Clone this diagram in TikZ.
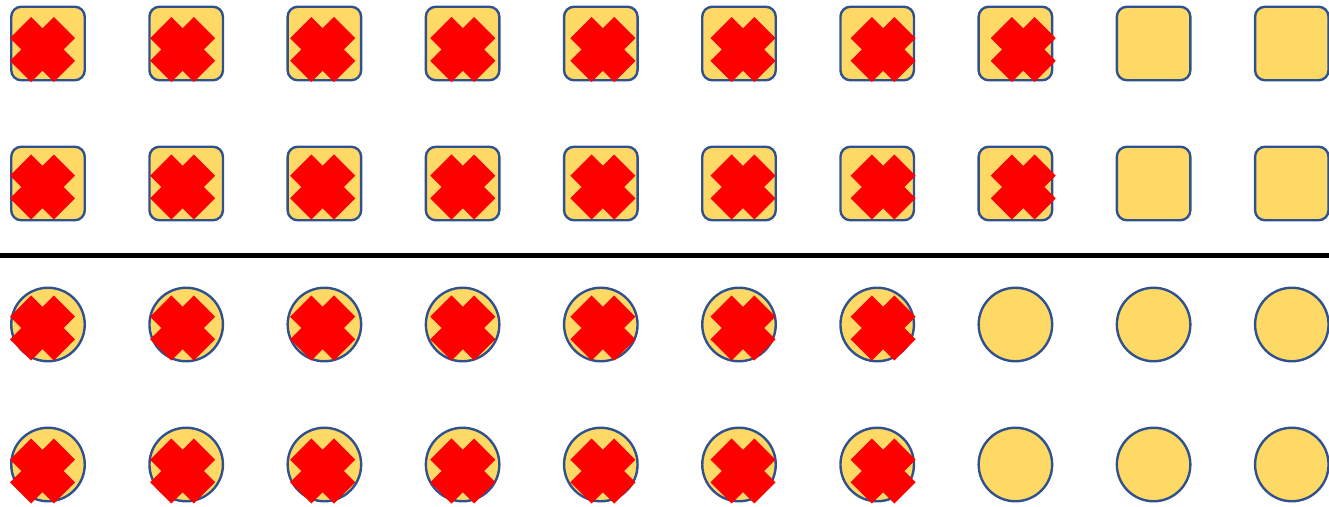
\documentclass[tikz,border=0pt]{standalone}
\definecolor{tilefill}{HTML}{FFD966}
\definecolor{tileedge}{HTML}{2F528F}
\tikzset{
  xmark/.pic={\fill[red,rotate=45] (15,31) -- (-15,31) -- (-15,15) -- (-31,15) -- (-31,-15) -- (-15,-15)
    -- (-15,-31) -- (15,-31) -- (15,-15) -- (31,-15) -- (31,15) -- (15,15) -- cycle;}
}
\begin{document}
\begin{tikzpicture}[x=1pt,y=-1pt,
  tile/.style={draw=tileedge,fill=tilefill,line width=2.4pt,minimum size=73.5pt,inner sep=0pt,rounded corners=10pt},
  disc/.style={circle,draw=tileedge,fill=tilefill,line width=2.4pt,minimum size=73.5pt,inner sep=0pt}]
\useasboundingbox (0,0) rectangle (1329,506);

% squares
\foreach \c in {0,...,9} {
  \node[tile] (sqa\c) at (48+138.2*\c,43.5) {};
  \node[tile] (sqb\c) at (48+138.2*\c,183.5) {};
}
\foreach \c in {0,...,7} {
  \pic at (42.5+140.1*\c,49.5) {xmark};
  \pic at (42.5+140.1*\c,187) {xmark};
}

% divider
\coordinate (divl) at (0,255);
\coordinate (divr) at (1329,255);
\draw[line width=5pt] (divl) -- (divr);

% circles
\foreach \c in {0,...,9} {
  \node[disc] (cia\c) at (48+138.2*\c,324.5) {};
  \node[disc] (cib\c) at (48+138.2*\c,464.5) {};
}
\foreach \c in {0,...,6} {
  \pic at (42.5+140.1*\c,328) {xmark};
  \pic at (42.5+140.1*\c,471) {xmark};
}
\end{tikzpicture}
\end{document}
